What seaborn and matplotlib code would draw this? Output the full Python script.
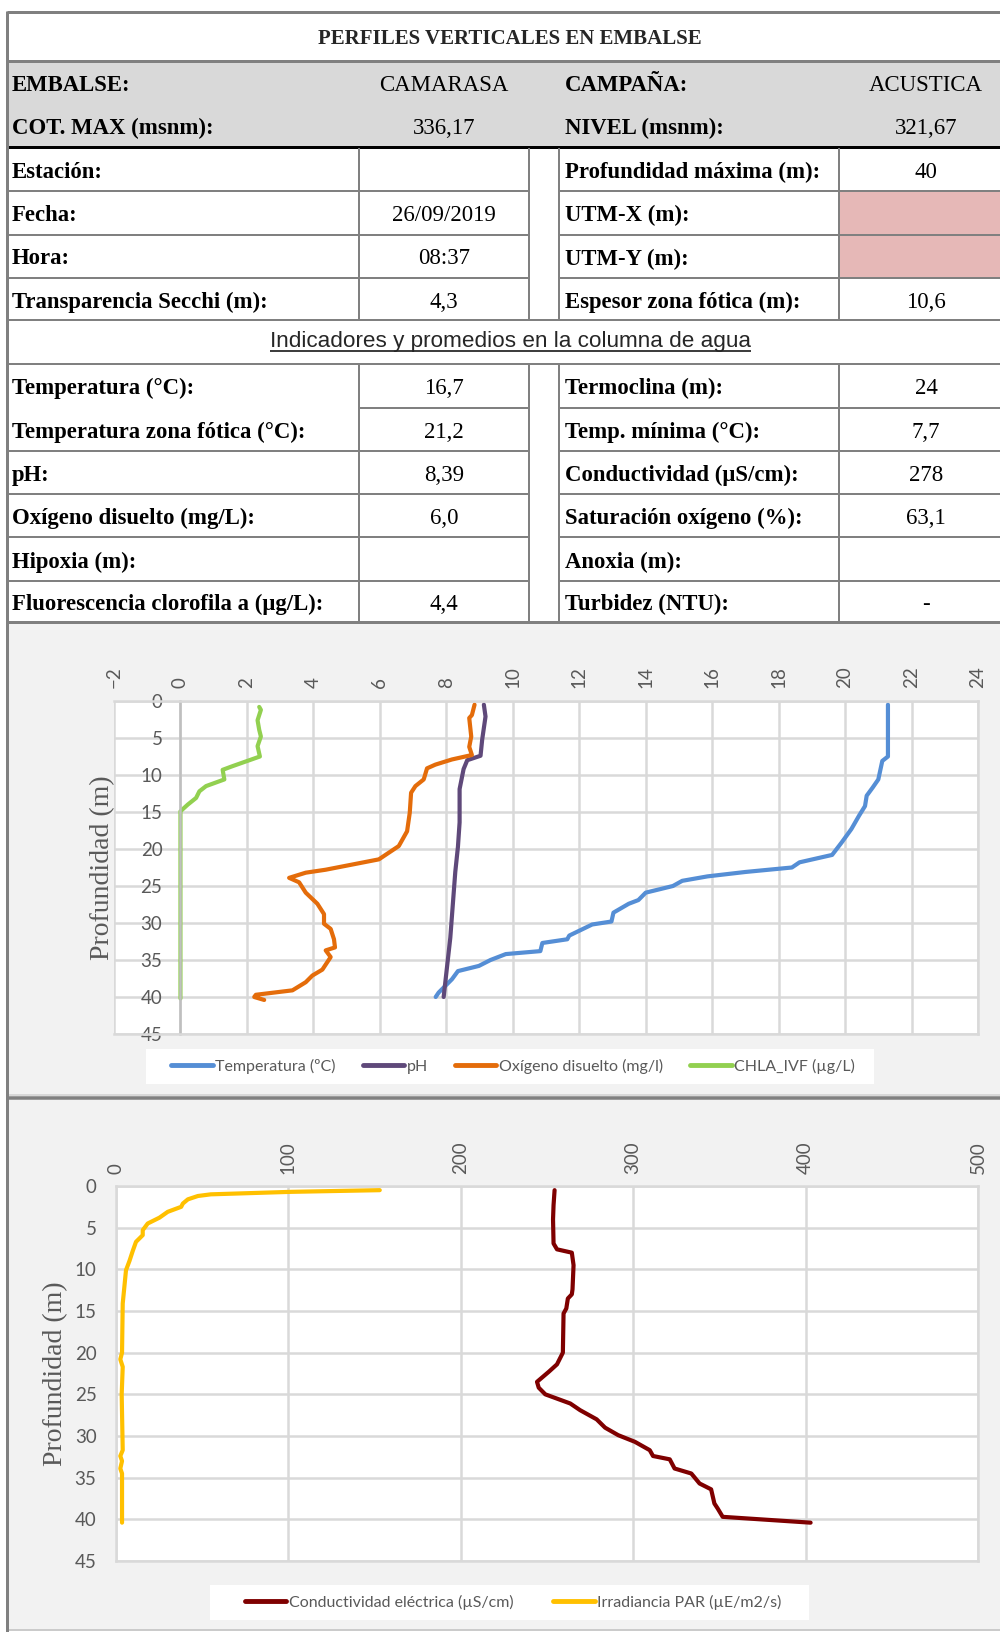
import numpy as np
import pandas as pd
import seaborn as sns
import matplotlib.pyplot as plt
from matplotlib.patches import Rectangle

# ---- table text ----
titulo = "PERFILES VERTICALES EN EMBALSE"
cab_izq = ["EMBALSE:", "COT. MAX (msnm):"]
cab_izq_val = ["CAMARASA", "336,17"]
cab_der = ["CAMPAÑA:", "NIVEL (msnm):"]
cab_der_val = ["ACUSTICA", "321,67"]
est_izq = ["Estación:", "Fecha:", "Hora:", "Transparencia Secchi (m):"]
est_izq_val = ["", "26/09/2019", "08:37", "4,3"]
est_der = ["Profundidad máxima (m):", "UTM-X (m):", "UTM-Y (m):", "Espesor zona fótica (m):"]
est_der_val = ["40", "", "", "10,6"]
subtitulo = "Indicadores y promedios en la columna de agua"
ind_izq = ["Temperatura (°C):", "Temperatura zona fótica (°C):", "pH:",
           "Oxígeno disuelto (mg/L):", "Hipoxia (m):", "Fluorescencia clorofila a (µg/L):"]
ind_izq_val = ["16,7", "21,2", "8,39", "6,0", "", "4,4"]
ind_der = ["Termoclina (m):", "Temp. mínima (°C):", "Conductividad (µS/cm):",
           "Saturación oxígeno (%):", "Anoxia (m):", "Turbidez (NTU):"]
ind_der_val = ["24", "7,7", "278", "63,1", "", "-"]

# ---- perfiles (profundidad en m) ----
temp_prof = [0.5, 7.5, 8.1, 10.6, 11.7, 12.8, 14.2, 15.5, 17.3, 19.1, 20.8, 21.8, 22.5, 23.1,
             23.7, 24.3, 25.0, 25.9, 26.9, 27.4, 28.6, 29.8, 30.2, 31.7, 32.2, 32.7, 33.8,
             34.2, 35.0, 35.8, 36.5, 37.6, 39.4, 40.0]
temp_val = [21.29, 21.29, 21.12, 21.0, 20.83, 20.65, 20.6, 20.42, 20.19, 19.9, 19.61, 18.63,
            18.4, 17.01, 15.86, 15.1, 14.82, 14.0, 13.78, 13.49, 13.03, 12.97, 12.39, 11.70,
            11.64, 10.89, 10.83, 9.79, 9.33, 8.98, 8.35, 8.17, 7.77, 7.68]
ph_prof = [0.5, 2.1, 5.2, 7.4, 8.0, 9.2, 11.9, 16.4, 19.7, 23.1, 32.0, 40.0]
ph_val = [9.13, 9.18, 9.08, 9.03, 8.63, 8.52, 8.40, 8.40, 8.35, 8.27, 8.12, 7.92]
ox_prof = [0.5, 1.9, 2.3, 4.8, 6.2, 7.3, 7.9, 8.6, 9.1, 10.6, 11.5, 12.4, 15.1, 17.6, 19.6,
           21.4, 22.1, 22.8, 23.2, 23.9, 24.5, 25.9, 27.4, 28.8, 30.1, 30.8, 32.2, 33.3, 33.7,
           34.6, 36.3, 37.1, 38.0, 39.1, 39.7, 40.0, 40.4]
ox_val = [8.85, 8.77, 8.69, 8.75, 8.69, 8.77, 8.17, 7.67, 7.42, 7.32, 7.07, 6.94, 6.90, 6.82,
          6.57, 5.97, 5.17, 4.37, 3.77, 3.27, 3.57, 3.77, 4.12, 4.32, 4.32, 4.52, 4.62, 4.65,
          4.37, 4.52, 4.27, 3.97, 3.77, 3.37, 2.27, 2.22, 2.52]
chla_prof = [0.8, 1.2, 2.6, 3.9, 4.8, 6.1, 7.5, 8.8, 9.3, 10.6, 11.5, 12.2, 13.1, 14.0, 14.9, 40.2]
chla_val = [2.37, 2.42, 2.32, 2.37, 2.42, 2.32, 2.39, 1.57, 1.27, 1.32, 0.77, 0.57, 0.47, 0.22,
            0.0, 0.0]
par_prof = [0.5, 0.7, 1.0, 1.2, 1.6, 2.1, 2.5, 3.1, 3.8, 4.5, 5.3, 5.9, 6.7, 7.8, 9.0, 10.1,
            12.0, 14.1, 20.0, 20.8, 21.7, 25.0, 31.7, 32.4, 33.0, 33.9, 34.5, 40.4]
par_val = [153, 101.7, 55, 47.5, 41.7, 38.8, 37.8, 30, 25.2, 18.4, 15.5, 15.5, 11.6, 9.7, 7.8,
           5.8, 4.9, 3.9, 3.5, 2.5, 3.9, 3.3, 3.9, 2.5, 3.5, 2.5, 3.5, 3.5]
cond_prof = [0.5, 2.3, 4.0, 6.9, 7.6, 8.0, 9.5, 12.4, 13.0, 13.5, 14.7, 15.3, 20.0, 21.4, 22.3,
             23.5, 24.2, 25.0, 26.1, 26.9, 28.0, 29.0, 29.9, 30.7, 31.7, 32.4, 32.8, 33.9,
             34.5, 35.7, 36.4, 38.1, 38.7, 39.7, 40.4]
cond_val = [254.4, 253.8, 253.5, 253.8, 255.8, 264.4, 265.4, 264.8, 264.4, 262.1, 261.2, 259.6,
            259.2, 255.8, 251.0, 244.2, 245.2, 249.0, 263.5, 269.2, 278.8, 283.7, 291.3, 301.0,
            309.6, 311.5, 321.2, 324.0, 333.7, 338.5, 345.2, 347.1, 349.0, 351.9, 402.9]

series1 = ["Temperatura (ºC)", "pH", "Oxígeno disuelto (mg/l)", "CHLA_IVF (µg/L)"]
colors1 = ["#558ed5", "#5f497a", "#e46c0a", "#92d050"]
series2 = ["Conductividad eléctrica (µS/cm)", "Irradiancia PAR (µE/m2/s)"]
colors2 = ["#7f0000", "#ffc000"]

df1 = pd.concat([
    pd.DataFrame({"prof": p, "valor": v, "serie": s})
    for p, v, s in zip([temp_prof, ph_prof, ox_prof, chla_prof],
                       [temp_val, ph_val, ox_val, chla_val], series1)
])
df2 = pd.concat([
    pd.DataFrame({"prof": p, "valor": v, "serie": s})
    for p, v, s in zip([cond_prof, par_prof], [cond_val, par_val], series2)
])

sns.set_theme(style="white")
plt.rcParams["font.family"] = ["Lato", "DejaVu Sans"]
SERIF = ["Liberation Serif", "DejaVu Serif"]
GRAY_TXT = "#595959"
GRID = "#d9d9d9"
BORDER = "#808080"

fig = plt.figure(figsize=(10, 16.32), dpi=100)
bg = fig.add_axes([0, 0, 1, 1], zorder=0)
bg.set_xlim(0, 1000)
bg.set_ylim(1632, 0)
bg.axis("off")


def hl(x0, x1, y, c=BORDER, w=2.0):
    bg.plot([x0, x1], [y, y], color=c, lw=w * 0.72, solid_capstyle="butt")


def vl(x, y0, y1, c=BORDER, w=2.0):
    bg.plot([x, x], [y0, y1], color=c, lw=w * 0.72, solid_capstyle="butt")


# backgrounds
bg.add_patch(Rectangle((7, 62), 1000, 85, fc="#d9d9d9", ec="none"))
bg.add_patch(Rectangle((839, 191), 170, 87, fc="#e6b8b7", ec="none"))
bg.add_patch(Rectangle((7, 622), 1000, 476, fc="#f2f2f2", ec="none"))
bg.add_patch(Rectangle((7, 1099), 1000, 532, fc="#f2f2f2", ec="none"))
bg.add_patch(Rectangle((146, 1049), 728, 35, fc="white", ec="none"))
bg.add_patch(Rectangle((210, 1585), 599, 35, fc="white", ec="none"))

# table grid
hl(7, 1000, 12, w=3)
hl(7, 1000, 61, w=3)
hl(7, 1000, 147, c="black", w=3)
for y in [191, 235, 278]:
    hl(7, 529, y)
    hl(559, 1000, y)
hl(7, 1000, 320)
hl(7, 1000, 364)
hl(359, 529, 408)
hl(559, 1000, 408)
for y in [451, 494, 537, 581]:
    hl(7, 529, y)
    hl(559, 1000, y)
hl(7, 1000, 622, w=3)
for x in [359, 529, 559, 839]:
    vl(x, 148, 320)
    vl(x, 364, 622)
hl(7, 1000, 1095, c="#d0d0d0", w=1.5)
hl(7, 1000, 1098, w=3.5)
hl(7, 1000, 1630, c="#bfbfbf", w=1.5)
vl(7, 11, 1632, w=3)

# table text
lab_kw = dict(family=SERIF, weight="bold", size=16.4, va="center", ha="left", color="black")
val_kw = dict(family=SERIF, size=16.5, va="center", ha="center", color="black")
dy = 2.5
bg.text(510, 38.5, titulo, family=SERIF, weight="bold", size=15, ha="center", va="center")
for i, y in enumerate([83, 126]):
    bg.text(12, y + dy, cab_izq[i], **lab_kw)
    bg.text(444, y + dy, cab_izq_val[i], **val_kw)
    bg.text(565, y + dy, cab_der[i], **lab_kw)
    bg.text(926, y + dy, cab_der_val[i], **val_kw)
for i, y in enumerate([170, 213, 256.5, 299.5]):
    bg.text(12, y + dy, est_izq[i], **lab_kw)
    bg.text(444, y + dy, est_izq_val[i], **val_kw)
    bg.text(565, y + dy, est_der[i], **lab_kw)
    bg.text(926, y + dy, est_der_val[i], **val_kw)
for i, y in enumerate([386, 430, 473, 516, 559.5, 602]):
    bg.text(12, y + dy, ind_izq[i], **lab_kw)
    bg.text(444, y + dy, ind_izq_val[i], **val_kw)
    bg.text(565, y + dy, ind_der[i], **lab_kw)
    bg.text(926, y + dy, ind_der_val[i], **val_kw)
sub = bg.text(510, 342, subtitulo, family=["Liberation Sans", "DejaVu Sans"], size=16.2,
              ha="center", va="center")


def style_axes(ax, xticks):
    ax.set_facecolor("white")
    ax.set_axisbelow(True)
    ax.grid(True, color=GRID, lw=1.8)
    ax.set_ylim(45, 0)
    ax.set_yticks(range(0, 46, 5))
    ax.set_xticks(xticks)
    ax.set_xlim(xticks[0], xticks[-1])
    ax.xaxis.tick_top()
    ax.tick_params(axis="x", labelrotation=90, length=0, pad=9, labelsize=13.5,
                   labelcolor=GRAY_TXT)
    ax.tick_params(axis="y", length=0, labelsize=13.5, labelcolor=GRAY_TXT)
    for s in ax.spines.values():
        s.set_color(GRID)
        s.set_linewidth(1.8)
    ax.set_xlabel("")
    ax.set_ylabel("Profundidad (m)", family=SERIF, size=20, color=GRAY_TXT)


# chart 1
ax1 = fig.add_axes([0.114, 1 - 1034 / 1632, 0.864, 333 / 1632], zorder=2)
sns.lineplot(data=df1, x="valor", y="prof", hue="serie", hue_order=series1,
             palette=colors1, sort=False, estimator=None, orient="y", lw=3, ax=ax1)
style_axes(ax1, list(range(-2, 25, 2)))
ax1.spines["left"].set_position(("data", 0))
ax1.spines["left"].set_color("#bfbfbf")
ax1.tick_params(axis="y", pad=13)
ax1.yaxis.set_label_coords(0.0015, 0.5)
sns.move_legend(ax1, "center", bbox_to_anchor=(0.513, 1 - 1066 / 1632),
                bbox_transform=fig.transFigure, ncol=4, frameon=False, title=None,
                fontsize=11.5, handlelength=2.6, handletextpad=0.15, columnspacing=1.7,
                labelcolor=GRAY_TXT)
for h in ax1.get_legend().get_lines():
    h.set_linewidth(3.5)

# chart 2
ax2 = fig.add_axes([0.116, 1 - 1561 / 1632, 0.862, 375 / 1632], zorder=2)
sns.lineplot(data=df2, x="valor", y="prof", hue="serie", hue_order=series2,
             palette=colors2, sort=False, estimator=None, orient="y", lw=3, ax=ax2)
style_axes(ax2, list(range(0, 501, 100)))
ax2.tick_params(axis="y", pad=14)
ax2.yaxis.set_label_coords(-0.055, 0.5)
sns.move_legend(ax2, "center", bbox_to_anchor=(0.513, 1 - 1602 / 1632),
                bbox_transform=fig.transFigure, ncol=2, frameon=False, title=None,
                fontsize=11.5, handlelength=2.6, handletextpad=0.15, columnspacing=2.5,
                labelcolor=GRAY_TXT)
for h in ax2.get_legend().get_lines():
    h.set_linewidth(3.5)

# underline for the subtitle
fig.canvas.draw()
bb = sub.get_window_extent()
inv = bg.transData.inverted()
(x0, y0), (x1, y1) = inv.transform([[bb.x0, bb.y0], [bb.x1, bb.y1]])
hl(x0, x1, max(y0, y1) - 1.5, c="black", w=1.5)

fig.savefig("out.png", dpi=100)
